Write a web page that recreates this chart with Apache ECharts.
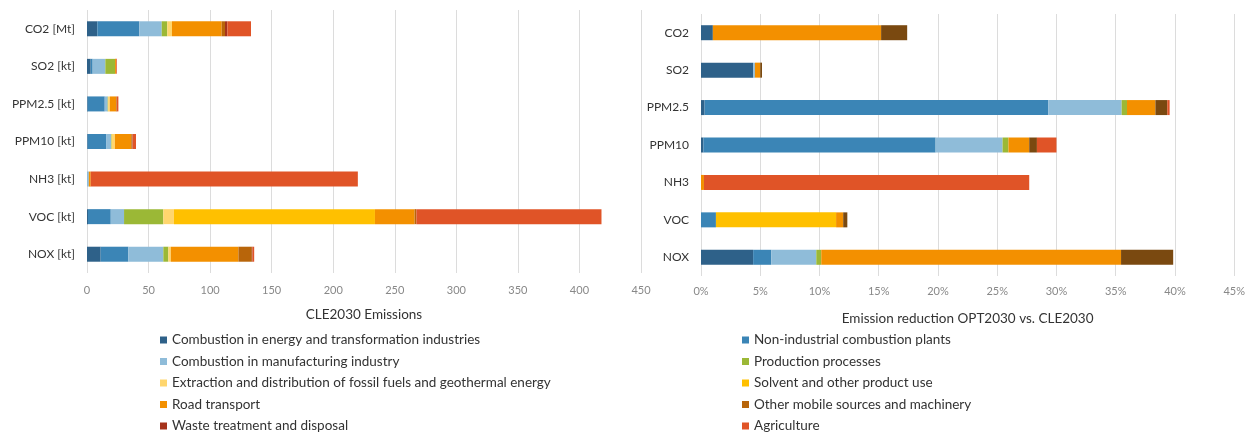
<!DOCTYPE html>
<html>
<head>
<meta charset="utf-8">
<script src="https://cdn.jsdelivr.net/npm/echarts@6/dist/echarts.min.js"></script>
<style>
html,body{margin:0;padding:0;background:#fff;}
#chart{width:1248px;height:432px;}
</style>
</head>
<body>
<div id="chart"></div>
<script>
// Categories
const leftCategories = ['CO2 [Mt]', 'SO2 [kt]', 'PPM2.5 [kt]', 'PPM10 [kt]', 'NH3 [kt]', 'VOC [kt]', 'NOX [kt]'];
const rightCategories = ['CO2', 'SO2', 'PPM2.5', 'PPM10', 'NH3', 'VOC', 'NOX'];

// Sectors (stack order)
const sectors = [
  'Combustion in energy and transformation industries',
  'Non-industrial combustion plants',
  'Combustion in manufacturing industry',
  'Production processes',
  'Extraction and distribution of fossil fuels and geothermal energy',
  'Solvent and other product use',
  'Road transport',
  'Other mobile sources and machinery',
  'Waste treatment and disposal',
  'Agriculture'
];

// Left chart: CLE2030 Emissions (order: CO2, SO2, PPM2.5, PPM10, NH3, VOC, NOX)
const cleEnergy     = [8.4, 3.0, 0.5, 0.5, 0, 0.8, 11.1];
const cleNonInd     = [34.1, 1.6, 13.9, 15.0, 0, 18.5, 22.5];
const cleManuf      = [18.2, 10.3, 2.4, 4.0, 1.5, 10.8, 28.4];
const cleProduction = [4.5, 7.9, 0.3, 0.5, 0, 31.9, 4.1];
const cleExtraction = [3.8, 0, 1.4, 2.7, 0, 8.6, 2.0];
const cleSolvent    = [0, 0, 0, 0, 0, 163.3, 0];
const cleRoad       = [40.4, 0.8, 5.2, 13.3, 1.5, 32.2, 54.9];
const cleOtherMob   = [2.7, 0, 0.5, 0.8, 0, 1.4, 10.9];
const cleWaste      = [1.9, 0, 0, 0.3, 0, 0, 0.5];
const cleAgri       = [19.2, 0.6, 1.3, 2.7, 217, 150.4, 1.4];

// Right chart: Emission reduction OPT2030 vs. CLE2030 (%)
const redEnergy     = [1.0, 4.4, 0.3, 0.2, 0, 0, 4.4];
const redNonInd     = [0, 0, 29.0, 19.6, 0, 1.26, 1.53];
const redManuf      = [0, 0.15, 6.2, 5.65, 0, 0, 3.8];
const redProduction = [0, 0, 0.45, 0.5, 0, 0, 0.42];
const redExtraction = [0, 0, 0, 0, 0, 0, 0];
const redSolvent    = [0, 0, 0, 0, 0, 10.14, 0];
const redRoad       = [14.2, 0.45, 2.4, 1.75, 0.25, 0.6, 25.3];
const redOtherMob   = [2.2, 0.15, 1.0, 0.65, 0, 0.35, 4.4];
const redWaste      = [0, 0, 0, 0, 0, 0, 0];
const redAgri       = [0, 0, 0.2, 1.65, 27.45, 0, 0];

const leftData = [cleEnergy, cleNonInd, cleManuf, cleProduction, cleExtraction, cleSolvent, cleRoad, cleOtherMob, cleWaste, cleAgri];
const rightData = [redEnergy, redNonInd, redManuf, redProduction, redExtraction, redSolvent, redRoad, redOtherMob, redWaste, redAgri];

const leftColors  = ['#2E6189', '#3B85B6', '#8FBCD9', '#9BB836', '#FFD66E', '#FFC000', '#F39000', '#B8650A', '#A5321B', '#E05427'];
const rightColors = ['#2E6189', '#3B85B6', '#8FBCD9', '#9BB836', '#FFD66E', '#FFC000', '#F39000', '#7A4910', '#A5321B', '#E05427'];

const FONT = 'Lato, "Open Sans", sans-serif';

const series = [];
sectors.forEach((name, i) => {
  series.push({
    name: name, type: 'bar', stack: 'left', xAxisIndex: 0, yAxisIndex: 0,
    barWidth: 15, data: leftData[i], itemStyle: { color: leftColors[i] }
  });
});
sectors.forEach((name, i) => {
  series.push({
    name: name, type: 'bar', stack: 'right', xAxisIndex: 1, yAxisIndex: 1,
    barWidth: 15, data: rightData[i], itemStyle: { color: rightColors[i] }
  });
});

const legendText = { fontFamily: FONT, fontSize: 13.5, color: '#333', lineHeight: 14 };

const option = {
  animation: false,
  backgroundColor: '#fff',
  textStyle: { fontFamily: FONT },
  legend: [
    {
      data: sectors.filter((s, i) => i % 2 === 0),
      orient: 'vertical', left: 160, top: 333, width: 500, height: 130,
      icon: 'rect', itemWidth: 7, itemHeight: 7, itemGap: 7.5,
      textStyle: legendText, selectedMode: false, padding: 0
    },
    {
      data: sectors.filter((s, i) => i % 2 === 1),
      orient: 'vertical', left: 742, top: 333, width: 400, height: 130,
      icon: 'rect', itemWidth: 7, itemHeight: 7, itemGap: 7.5,
      textStyle: legendText, selectedMode: false, padding: 0
    }
  ],
  grid: [
    { left: 87, width: 554, top: 10, height: 263 },
    { left: 701, width: 536, top: 14, height: 262 }
  ],
  xAxis: [
    {
      gridIndex: 0, type: 'value', min: 0, max: 450, interval: 50,
      name: 'CLE2030 Emissions', nameLocation: 'middle', nameGap: 35,
      nameTextStyle: { fontFamily: FONT, fontSize: 13.5, color: '#333' },
      axisLine: { show: false }, axisTick: { show: false },
      axisLabel: { fontFamily: FONT, fontSize: 11, color: '#888', margin: 12 },
      splitLine: { lineStyle: { color: '#dcdcdc', width: 1 } }
    },
    {
      gridIndex: 1, type: 'value', min: 0, max: 45, interval: 5,
      name: 'Emission reduction OPT2030 vs. CLE2030', nameLocation: 'middle', nameGap: 36,
      nameTextStyle: { fontFamily: FONT, fontSize: 13.5, color: '#333' },
      axisLine: { show: false }, axisTick: { show: false },
      axisLabel: { fontFamily: FONT, fontSize: 11, color: '#888', margin: 10, formatter: '{value}%' },
      splitLine: { lineStyle: { color: '#dcdcdc', width: 1 } }
    }
  ],
  yAxis: [
    {
      gridIndex: 0, type: 'category', data: leftCategories, inverse: true,
      axisLine: { show: false }, axisTick: { show: false },
      axisLabel: { fontFamily: FONT, fontSize: 12, color: '#333', margin: 12 }
    },
    {
      gridIndex: 1, type: 'category', data: rightCategories, inverse: true,
      axisLine: { show: false }, axisTick: { show: false },
      axisLabel: { fontFamily: FONT, fontSize: 12, color: '#333', margin: 12 }
    }
  ],
  series: series
};

const chart = echarts.init(document.getElementById('chart'), null, { renderer: 'canvas' });
chart.setOption(option);
</script>
</body>
</html>
